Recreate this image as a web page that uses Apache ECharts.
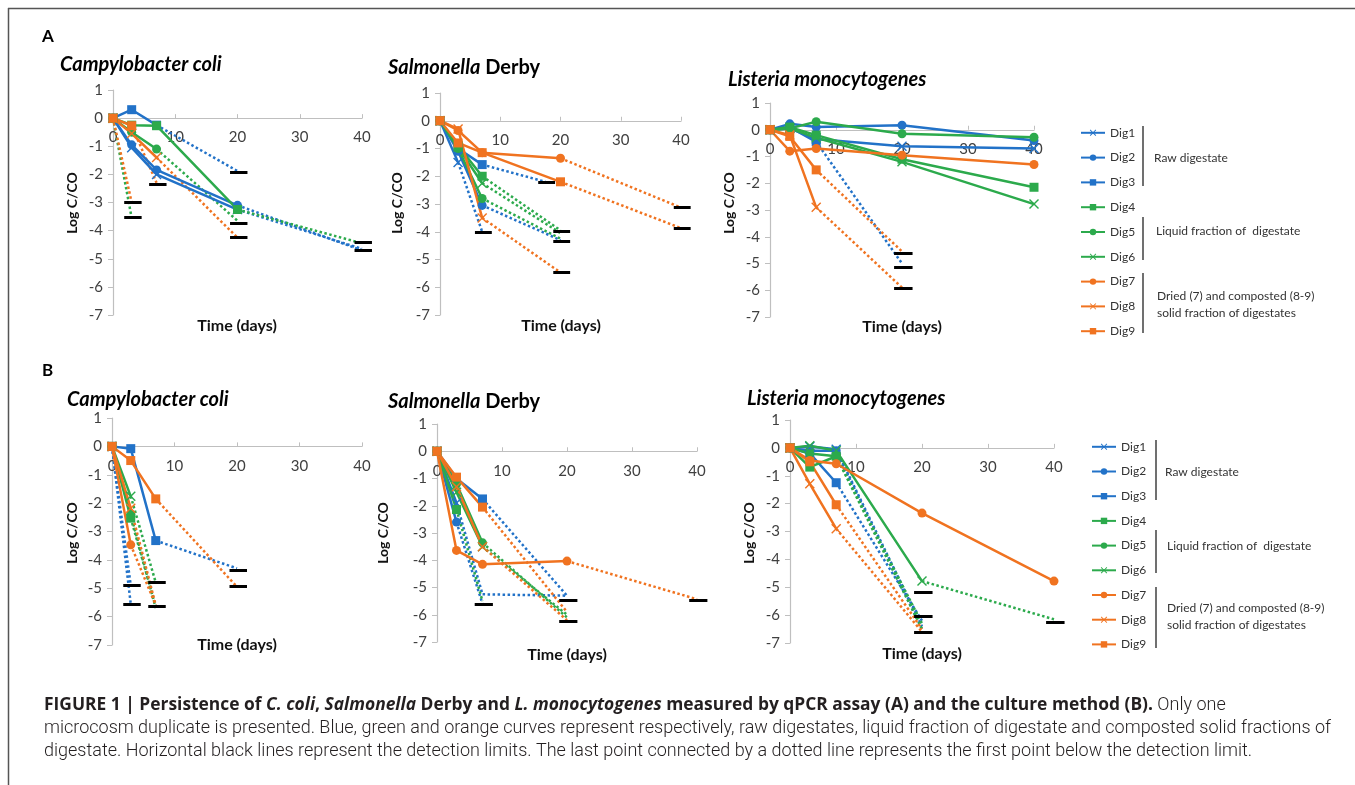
<!DOCTYPE html>
<html lang="en">
<head>
<meta charset="utf-8">
<script src="https://cdn.jsdelivr.net/npm/echarts@6/dist/echarts.min.js"></script>
<style>
  html, body { margin: 0; padding: 0; background: #fff; }
  #chart { width: 1355px; height: 785px; }
</style>
</head>
<body>
<div id="chart"></div>
<script>
// sampling days and series names
const days = [0, 3, 7, 20, 40];
const digNames = ['Dig1', 'Dig2', 'Dig3', 'Dig4', 'Dig5', 'Dig6', 'Dig7', 'Dig8', 'Dig9'];
const groupLabels = ['Raw digestate', 'Liquid fraction of  digestate', 'Dried (7) and composted (8-9)', 'solid fraction of digestates'];

// A - qPCR, Campylobacter coli (values per day, solid part)
const aCampySolid = [
  [0, -1.05, -2.0, -3.25],
  [0, -0.95, -1.84, -3.1],
  [0, 0.3, -0.25],
  [0, -0.25, -0.27, -3.25],
  [0, -0.5, -1.1],
  [0],
  [0],
  [0, -0.55, -1.4],
  [0, -0.27]
];
// first point below the detection limit (dotted part)
const aCampyBelow = [[[40, -4.65]], [[40, -4.7]], [[20, -1.88]], [[40, -4.45]], [[20, -3.65]], [[3, -3.55]], [[3, -3.0]], [[20, -4.25]], [[7, -2.3]]];
const aCampyLimits = [[3, -3.0], [3, -3.52], [7, -2.35], [20, -1.93], [20, -3.73], [20, -4.25], [40, -4.4], [40, -4.7]];

// A - qPCR, Salmonella Derby
const aSalmoSolid = [
  [0, -1.5],
  [0, -1.1, -3.05],
  [0, -1.0, -1.58],
  [0, -0.9, -2.0],
  [0, -1.0, -2.8],
  [0, -0.95, -2.25],
  [0, -0.35, -1.15, -1.35],
  [0, -0.3, -3.5],
  [0, -0.8, -1.15, -2.2]
];
const aSalmoBelow = [[[7, -4.0]], [[20, -4.3]], [[17.5, -2.2]], [[20, -3.95]], [[20, -4.25]], [[20, -4.05]], [[40, -3.13]], [[20, -5.47]], [[40, -3.87]]];
const aSalmoLimits = [[7, -4.03], [17.5, -2.2], [20, -3.97], [20, -4.33], [20, -5.47], [40, -3.13], [40, -3.87]];

// A - qPCR, Listeria monocytogenes
const aListSolid = [
  [0, 0.05, -0.35, -0.62, -0.7],
  [0, 0.22, 0.1, 0.17, -0.4],
  [0, 0.1, -0.45],
  [0, 0.1, -0.2, -1.1, -2.15],
  [0, 0.05, 0.3, -0.15, -0.28],
  [0, 0.05, -0.3, -1.2, -2.78],
  [0, -0.8, -0.7, -0.95, -1.3],
  [0, -0.2, -2.9],
  [0, -0.25, -1.5]
];
const aListBelow = [null, null, [[20, -5.0]], null, null, null, null, [[20, -5.9]], [[20, -4.55]]];
const aListLimits = [[20, -4.6], [20, -5.13], [20, -5.94]];

// B - culture, Campylobacter coli
const bCampySolid = [
  [0],
  [0],
  [0, -0.08, -3.32],
  [0, -2.53],
  [0, -2.4],
  [0, -1.76],
  [0, -3.47],
  [0, -2.18],
  [0, -0.5, -1.85]
];
const bCampyBelow = [[[3, -5.55]], [[3, -4.9]], [[20, -4.3]], [[7, -5.65]], [[7, -5.7]], [[7, -4.8]], [[7, -5.6]], [[7, -5.6]], [[20, -4.95]]];
const bCampyLimits = [[3, -4.88], [3, -5.56], [7, -4.79], [7, -5.62], [20, -4.35], [20, -4.94]];

// B - culture, Salmonella Derby
const bSalmoSolid = [
  [0, -1.9],
  [0, -2.6],
  [0, -1.0, -1.75],
  [0, -2.14],
  [0, -1.2, -3.36],
  [0, -1.5, -3.5],
  [0, -3.64, -4.15, -4.03],
  [0, -1.3, -3.5],
  [0, -0.95, -2.05]
];
const bSalmoBelow = [[[7, -5.25], [20, -5.3]], [[7, -5.6]], [[20, -5.3]], [[7, -5.5]], [[20, -6.1]], [[20, -6.0]], [[40, -5.43]], [[20, -6.2]], [[20, -5.9]]];
const bSalmoLimits = [[7, -5.6], [20, -5.47], [20, -6.23], [40, -5.46]];

// B - culture, Listeria monocytogenes
const bListSolid = [
  [0, 0.05, -0.05],
  [0, -0.1, -0.1],
  [0, -0.2, -1.25],
  [0, -0.69, -0.3],
  [0, -0.2, -0.3],
  [0, 0.08, -0.1, -4.78],
  [0, -0.45, -0.57, -2.34, -4.78],
  [0, -1.29, -2.9],
  [0, -0.5, -2.04]
];
const bListBelow = [[[20, -6.4]], [[20, -6.5]], [[20, -6.2]], [[20, -6.5]], [[20, -6.3]], [[40, -6.15]], null, [[20, -6.6]], [[20, -6.5]]];
const bListLimits = [[20, -5.19], [20, -6.03], [20, -6.63], [40, -6.24]];

const panels = [
  { solid: aCampySolid, below: aCampyBelow, limits: aCampyLimits },
  { solid: aSalmoSolid, below: aSalmoBelow, limits: aSalmoLimits },
  { solid: aListSolid, below: aListBelow, limits: aListLimits },
  { solid: bCampySolid, below: bCampyBelow, limits: bCampyLimits },
  { solid: bSalmoSolid, below: bSalmoBelow, limits: bSalmoLimits },
  { solid: bListSolid, below: bListBelow, limits: bListLimits }
];

// layout of the six plots (pixels)
const grids = [
  { left: 113, top: 90, width: 249, height: 225 },
  { left: 440, top: 93, width: 241, height: 222 },
  { left: 770, top: 103, width: 264, height: 214 },
  { left: 112, top: 418, width: 250, height: 227 },
  { left: 437, top: 424, width: 260, height: 218 },
  { left: 790, top: 420, width: 264, height: 223 }
];

const FONT = 'Lato, "Open Sans", sans-serif';
const BLUE = '#2272c8', GREEN = '#2caa4c', ORANGE = '#f07320';
const colors = [BLUE, BLUE, BLUE, GREEN, GREEN, GREEN, ORANGE, ORANGE, ORANGE];
const CROSS = 'path://M1,0 L5,4 L9,0 L10,1 L6,5 L10,9 L9,10 L5,6 L1,10 L0,9 L4,5 L0,1 Z';
const symbols = [CROSS, 'circle', 'rect', 'rect', 'circle', CROSS, 'circle', CROSS, 'rect'];
const symbolSizes = [10, 9, 9, 9, 9, 10, 9, 10, 9];

const xAxes = [], yAxes = [], series = [];
panels.forEach((p, k) => {
  // x axis crosses the y axis at 0 (one unit below the top of -7..1)
  xAxes.push({
    gridIndex: k, type: 'value', min: 0, max: 40, interval: 10,
    position: 'bottom', offset: -grids[k].height * 7 / 8,
    axisLine: { onZero: false, lineStyle: { color: '#bfbfbf', width: 1.2 } },
    axisTick: { show: true, inside: true, length: 4, lineStyle: { color: '#bfbfbf' } },
    axisLabel: { margin: 12, fontSize: 15, color: '#404040', fontFamily: FONT },
    splitLine: { show: false }
  });
  yAxes.push({
    gridIndex: k, type: 'value', min: -7, max: 1, interval: 1,
    axisLine: { show: true, onZero: false, lineStyle: { color: '#bfbfbf', width: 1.2 } },
    axisTick: { show: true, length: 5, lineStyle: { color: '#bfbfbf' } },
    axisLabel: { margin: 10, fontSize: 15, color: '#404040', fontFamily: FONT },
    splitLine: { show: false }
  });
  const dotted = [];
  p.solid.forEach((row, i) => {
    const pts = row.map((v, j) => [days[j], v]);
    series.push({
      type: 'line', name: digNames[i], xAxisIndex: k, yAxisIndex: k, data: pts,
      symbol: symbols[i], symbolSize: symbolSizes[i], showAllSymbol: true,
      lineStyle: { color: colors[i], width: 2.5 },
      itemStyle: { color: colors[i] },
      z: 3, silent: true
    });
    if (p.below[i]) {
      dotted.push({ coords: [pts[pts.length - 1]].concat(p.below[i]), lineStyle: { color: colors[i] } });
    }
  });
  series.push({
    type: 'lines', coordinateSystem: 'cartesian2d', xAxisIndex: k, yAxisIndex: k,
    polyline: true, data: dotted, clip: false, silent: true, z: 2,
    lineStyle: { type: 'dotted', width: 2.5, opacity: 1 }
  });
  series.push({
    type: 'lines', coordinateSystem: 'cartesian2d', xAxisIndex: k, yAxisIndex: k,
    data: p.limits.map(([t, v]) => ({ coords: [[t - 1.2, v], [t + 1.6, v]] })),
    clip: false, silent: true, z: 4,
    lineStyle: { color: '#000', width: 3, opacity: 1 }
  });
});

// text helpers
function txt(x, y, text, opts) {
  return {
    type: 'text', x: x, y: y,
    style: Object.assign({ text: text, fill: '#111', font: '13px ' + FONT, align: 'left', verticalAlign: 'middle' }, opts || {})
  };
}
const graphic = [];
// figure frame
graphic.push({ type: 'line', shape: { x1: 8, y1: 8.5, x2: 1355, y2: 8.5 }, style: { stroke: '#555', lineWidth: 1.5 } });
graphic.push({ type: 'line', shape: { x1: 8.5, y1: 8, x2: 8.5, y2: 785 }, style: { stroke: '#555', lineWidth: 1.5 } });
// panel letters
graphic.push(txt(42, 37, 'A', { font: 'bold 17px ' + FONT, fill: '#000' }));
graphic.push(txt(42, 371, 'B', { font: 'bold 17px ' + FONT, fill: '#000' }));

const titleRich = {
  bi: { fontStyle: 'italic', fontWeight: 'bold', fontSize: 20, fontFamily: FONT, fill: '#000' },
  b: { fontWeight: 'bold', fontSize: 20, fontFamily: FONT, fill: '#000' }
};
const titles = [
  [60, 65, '{bi|Campylobacter coli}'],
  [388, 68, '{bi|Salmonella}{b| Derby}'],
  [728, 80, '{bi|Listeria monocytogenes}'],
  [67, 400, '{bi|Campylobacter coli}'],
  [388, 402, '{bi|Salmonella}{b| Derby}'],
  [747, 399, '{bi|Listeria monocytogenes}']
];
titles.forEach(t => graphic.push(txt(t[0], t[1], t[2], { rich: titleRich })));

const xNames = [[237, 326], [561, 326], [902, 327], [237, 645], [567, 655], [922, 654]];
xNames.forEach(c => graphic.push(txt(c[0], c[1], 'Time (days)', { font: 'bold 16px ' + FONT, align: 'center', fill: '#111' })));
const yNames = [[72, 203], [397, 203], [729, 203], [72, 533], [383, 533], [749, 533]];
yNames.forEach(c => graphic.push(Object.assign(txt(c[0], c[1], 'Log C/CO', { font: 'bold 14px ' + FONT, align: 'center', fill: '#111' }), { rotation: Math.PI / 2 })));

// legend group brackets and labels
function brackets(x, spans, labelPos) {
  spans.forEach(s => graphic.push({ type: 'line', shape: { x1: x, y1: s[0], x2: x, y2: s[1] }, style: { stroke: '#404040', lineWidth: 1.5 } }));
  labelPos.forEach((p, i) => graphic.push(txt(p[0], p[1], groupLabels[i], { font: '12px ' + FONT, fill: '#333' })));
}
brackets(1143, [[126, 186], [217, 260], [273, 333]], [[1154, 158], [1156, 231], [1157, 296], [1157, 313]]);
brackets(1156, [[440, 500], [530, 573], [587, 648]], [[1165, 472], [1167, 546], [1167, 608], [1167, 625]]);

// caption
const CAP_BOLD = '"Open Sans", Roboto, sans-serif';
const capRich = {
  b: { fontWeight: 'bold', fontSize: 17.4, fontFamily: CAP_BOLD, fill: '#231f20' },
  bi: { fontWeight: 'bold', fontStyle: 'italic', fontSize: 17.4, fontFamily: CAP_BOLD, fill: '#231f20' },
  n: { fontWeight: 300, fontSize: 18, fontFamily: 'Roboto, sans-serif', fill: '#231f20' }
};
graphic.push(txt(44, 705, '{b|FIGURE 1 | Persistence of }{bi|C. coli}{b|, }{bi|Salmonella}{b| Derby and }{bi|L. monocytogenes}{b| measured by qPCR assay (A) and the culture method (B).}{n| Only one}', { rich: capRich }));
graphic.push(txt(44, 728, '{n|microcosm duplicate is presented. Blue, green and orange curves represent respectively, raw digestates, liquid fraction of digestate and composted solid fractions of}', { rich: capRich }));
graphic.push(txt(44, 751, '{n|digestate. Horizontal black lines represent the detection limits. The last point connected by a dotted line represents the first point below the detection limit.}', { rich: capRich }));

const legendBase = {
  data: digNames, orient: 'vertical', padding: 0, itemWidth: 24, itemHeight: 8, selectedMode: false,
  textStyle: { fontSize: 12, lineHeight: 8, color: '#333', fontFamily: FONT }
};

const chart = echarts.init(document.getElementById('chart'));
chart.setOption({
  backgroundColor: '#fff',
  animation: false,
  grid: grids,
  xAxis: xAxes,
  yAxis: yAxes,
  legend: [
    Object.assign({ left: 1080, top: 126.8, itemGap: 12.8 }, legendBase),
    Object.assign({ left: 1091, top: 440.8, itemGap: 12.7 }, legendBase)
  ],
  series: series,
  graphic: graphic
});
</script>
</body>
</html>
